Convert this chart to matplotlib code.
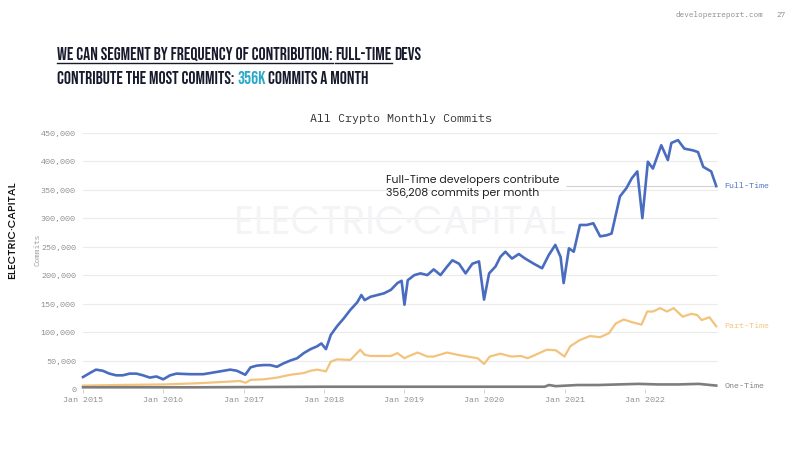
"""All Crypto Monthly Commits by developer frequency (slide 27 of developerreport.com)"""

import matplotlib
matplotlib.use('Agg')
import matplotlib.pyplot as plt
import matplotlib.dates as mdates
import pandas as pd

# Full-Time developer commits (thousands)
full_dates = [
    '2015-01-01', '2015-02-01', '2015-03-01', '2015-04-01', '2015-05-01', '2015-06-01',
    '2015-07-01', '2015-08-01', '2015-09-01', '2015-10-01', '2015-11-01', '2015-12-01',
    '2016-01-01', '2016-02-01', '2016-03-01', '2016-05-01', '2016-07-01', '2016-08-01',
    '2016-09-01', '2016-10-01', '2016-11-01', '2016-12-01', '2017-01-08', '2017-02-01',
    '2017-03-01', '2017-04-01', '2017-05-01', '2017-06-01', '2017-07-01', '2017-08-01',
    '2017-09-01', '2017-10-01', '2017-11-01', '2017-12-01', '2017-12-20', '2018-01-10',
    '2018-02-01', '2018-03-01', '2018-04-01', '2018-05-01', '2018-06-01', '2018-06-20',
    '2018-07-05', '2018-08-01', '2018-09-01', '2018-10-01', '2018-11-01', '2018-12-01',
    '2018-12-20', '2019-01-02', '2019-01-17', '2019-02-16', '2019-03-16', '2019-04-16',
    '2019-05-15', '2019-06-15', '2019-07-15', '2019-08-08', '2019-09-07', '2019-10-07',
    '2019-11-07', '2019-12-07', '2019-12-30', '2020-01-22', '2020-02-20', '2020-03-13',
    '2020-04-05', '2020-05-05', '2020-06-05', '2020-07-04', '2020-08-12', '2020-09-19',
    '2020-10-19', '2020-11-18', '2020-12-12', '2020-12-26', '2021-01-19', '2021-02-10',
    '2021-03-10', '2021-04-10', '2021-05-10', '2021-06-10', '2021-07-10', '2021-08-01',
    '2021-09-08', '2021-10-08', '2021-11-01', '2021-11-26', '2021-12-19', '2022-01-13',
    '2022-02-05', '2022-03-15', '2022-04-14', '2022-04-30', '2022-05-30', '2022-06-28',
    '2022-08-06', '2022-08-29', '2022-09-22', '2022-10-28', '2022-11-20',
]
full_values = [
    21, 28, 34, 32, 27, 24,
    24, 27, 27, 24, 20, 22,
    17, 24, 27, 26, 26, 28,
    30, 32, 34, 32, 25, 38,
    41, 42, 42, 39, 45, 50,
    54, 63, 70, 75, 80, 70,
    95, 110, 124, 139, 152, 165,
    156, 162, 165, 168, 174, 186,
    190, 148, 191, 200, 203, 200,
    210, 200, 215, 226, 220, 203,
    220, 224, 157, 203, 215, 232,
    241, 229, 237, 229, 220, 212,
    235, 253, 232, 186, 247, 241,
    288, 288, 291, 268, 270, 273,
    338, 353, 370, 382, 300, 399,
    387, 428, 402, 432, 437, 422,
    419, 416, 390, 382, 356.208,
]

# Part-Time developer commits (thousands)
part_dates = [
    '2015-01-01', '2015-06-01', '2016-01-01', '2016-06-01', '2016-12-15', '2017-01-10',
    '2017-02-01', '2017-04-01', '2017-06-01', '2017-08-01', '2017-10-01', '2017-11-01',
    '2017-12-01', '2018-01-10', '2018-02-01', '2018-03-01', '2018-05-01', '2018-06-15',
    '2018-07-05', '2018-08-01', '2018-11-01', '2018-12-01', '2019-01-02', '2019-01-17',
    '2019-03-03', '2019-04-16', '2019-05-15', '2019-07-15', '2019-09-01', '2019-10-15',
    '2019-12-01', '2019-12-30', '2020-01-25', '2020-03-13', '2020-05-01', '2020-06-15',
    '2020-07-15', '2020-08-20', '2020-10-10', '2020-11-20', '2020-12-30', '2021-01-25',
    '2021-03-10', '2021-04-25', '2021-06-10', '2021-07-20', '2021-08-20', '2021-09-25',
    '2021-11-05', '2021-12-15', '2022-01-10', '2022-02-05', '2022-03-10', '2022-04-10',
    '2022-05-10', '2022-06-20', '2022-07-30', '2022-08-25', '2022-09-15', '2022-10-20',
    '2022-11-20',
]
part_values = [
    6, 7, 8, 10, 14, 11,
    16, 17, 20, 25, 28, 32,
    34, 31, 48, 52, 51, 69,
    60, 58, 58, 63, 54, 57,
    64, 57, 57, 64, 60, 57,
    54, 44, 57, 62, 57, 58,
    54, 60, 69, 68, 57, 75,
    86, 93, 91, 98, 115, 122,
    117, 113, 136, 136, 142, 136,
    142, 127, 132, 130, 121, 126,
    110,
]

# One-Time developer commits (thousands)
one_dates = [
    '2015-01-01', '2016-06-01', '2018-01-01', '2020-10-01', '2020-10-20', '2020-11-20',
    '2021-03-01', '2021-06-01', '2021-09-01', '2021-12-01', '2022-03-01', '2022-06-01',
    '2022-09-01', '2022-11-20',
]
one_values = [3, 3, 4, 4, 7, 5, 7, 7, 8, 9, 8, 8, 9, 6]

year_ticks = ['2015', '2016', '2017', '2018', '2019', '2020', '2021', '2022']
y_ticks = [0, 50000, 100000, 150000, 200000, 250000, 300000, 350000, 400000, 450000]

BLUE = '#4a6cc0'
ORANGE = '#f3c37c'
GRAY = '#7d7d7d'
NAVY = '#161a2c'
CYAN = '#2aa9c9'
MONO = ['IBM Plex Mono', 'DejaVu Sans Mono']
SANS = ['Poppins', 'DejaVu Sans']
HEAD = ['Bebas Neue', 'Barlow Condensed', 'DejaVu Sans']

fig = plt.figure(figsize=(8, 4.49), dpi=100)
W, H = 800, 449


def fx(px):
    return px / W


def fy(py):
    return 1 - py / H


ax = fig.add_axes([fx(83), fy(389), fx(718 - 83), (389 - 132.7) / H])

series = [
    (full_dates, full_values, BLUE, 1.9, 'Full-Time'),
    (part_dates, part_values, ORANGE, 1.6, 'Part-Time'),
    (one_dates, one_values, GRAY, 1.9, 'One-Time'),
]
for dates, values, color, lw, name in series:
    d = pd.to_datetime(dates)
    v = [val * 1000 for val in values]
    ax.plot(d, v, color=color, lw=lw, solid_joinstyle='round', clip_on=False, zorder=3)
    ax.annotate(name, (d[-1], v[-1]), xytext=(6, 0), textcoords='offset points',
                va='center', ha='left', fontsize=6, family=MONO, color=color)

# annotation for the latest full-time value
last_date = pd.to_datetime(full_dates[-1])
last_val = full_values[-1] * 1000
ax.hlines(last_val, pd.Timestamp('2021-01-05'), last_date, color='#d0d0d0', lw=0.8, zorder=2)
fig.text(fx(386), fy(187), 'Full-Time developers contribute\n356,208 commits per month',
         fontsize=7.8, family=SANS, color='#222222', va='center', ha='left', linespacing=1.3)

ax.set_ylim(0, 450000)
ax.set_xlim(pd.Timestamp('2015-01-01'), pd.Timestamp('2022-11-28'))
ax.set_yticks(y_ticks)
ax.set_yticklabels([f'{v:,}' for v in y_ticks])
ax.set_xticks(pd.to_datetime([f'{y}-01-01' for y in year_ticks]))
ax.xaxis.set_major_formatter(mdates.DateFormatter('Jan %Y'))
ax.tick_params(axis='y', length=0, pad=5, labelsize=6, labelcolor='#8a8a8a')
ax.tick_params(axis='x', length=3, width=0.6, color='#cccccc', pad=2, labelsize=6, labelcolor='#8a8a8a')
for lab in ax.get_xticklabels() + ax.get_yticklabels():
    lab.set_family(MONO)
ax.grid(axis='y', color='#ebebeb', lw=0.8)
ax.set_axisbelow(True)
for s in ax.spines.values():
    s.set_visible(False)
ax.set_facecolor('none')

ax.set_title('All Crypto Monthly Commits', family=MONO, fontsize=8.5, color='#333333', pad=8)
fig.text(fx(37), fy(250), 'Commits', rotation=90, family=MONO, fontsize=5.5, color='#9a9a9a',
         ha='center', va='center')

# faint watermark and side logo
fig.text(fx(400), fy(225), 'ELECTRIC\u00b7CAPITAL', fontsize=28, color='#f4f4f7', ha='center',
         va='center', family=SANS, zorder=0)
fig.text(fx(13), fy(230), 'ELECTRIC\u00b7CAPITAL', rotation=90, fontsize=8, color='#111111',
         ha='center', va='center', family=SANS, fontweight='medium')

fig.text(fx(763), fy(15), 'developerreport.com', family=MONO, fontsize=5.5, color='#8a8a8a',
         ha='right', va='center')
fig.text(fx(786), fy(15), '27', family=MONO, fontsize=5.5, color='#8a8a8a', ha='right', va='center')

# headline, drawn piece by piece so some words can be underlined / coloured
headline = [
    [('WE CAN SEGMENT BY FREQUENCY OF CONTRIBUTION:', NAVY, True), ('FULL-TIME', NAVY, True),
     ('DEVS', NAVY, False)],
    [('CONTRIBUTE THE MOST COMMITS:', NAVY, False), ('356K', CYAN, False),
     ('COMMITS A MONTH', NAVY, False)],
]
fig.canvas.draw()
renderer = fig.canvas.get_renderer()
head_font = dict(family=HEAD, fontsize=20)
probe = fig.text(0, 0, ' '.join(p[0] for p in headline[0]), **head_font)
fit = 362 / probe.get_window_extent(renderer).width
probe.remove()
head_font['fontsize'] = 20 * fit
p1 = fig.text(0, 0, 'X X', **head_font)
p2 = fig.text(0, 0, 'XX', **head_font)
space = (p1.get_window_extent(renderer).width - p2.get_window_extent(renderer).width) / W
p1.remove()
p2.remove()

for row, base_y in zip(headline, [fy(60), fy(84)]):
    x = fx(57)
    for txt, color, underline in row:
        t = fig.text(x, base_y, txt, color=color, va='baseline', ha='left', **head_font)
        bb = t.get_window_extent(renderer)
        if underline:
            fig.add_artist(plt.Line2D([x, bb.x1 / W], [base_y - 3 / H] * 2, color=NAVY, lw=1.0))
        x = bb.x1 / W + space

fig.savefig('out.png', dpi=100, facecolor='white')
